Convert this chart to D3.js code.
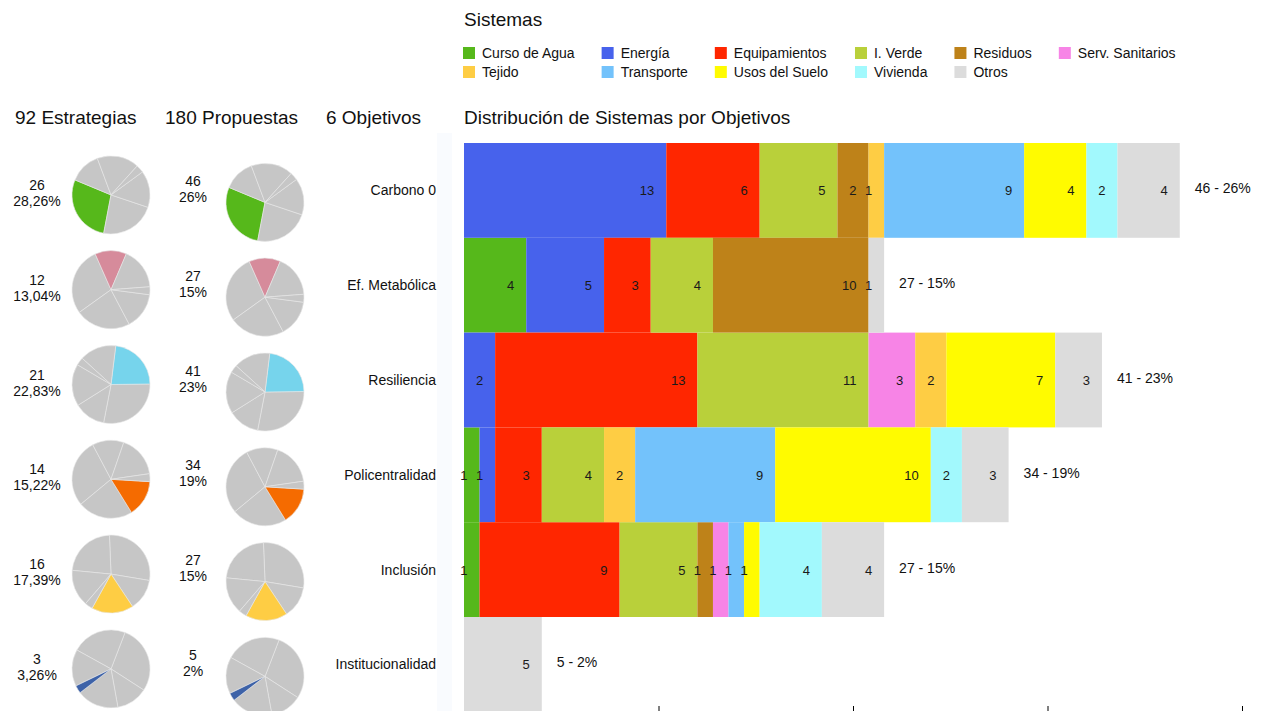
<!DOCTYPE html>
<html>
<head>
<meta charset="utf-8">
<script src="https://cdn.jsdelivr.net/npm/d3@7"></script>
<style>
  body { margin: 0; background: #fff; }
  svg { font-family: "Liberation Sans", Arial, Helvetica, sans-serif; }
</style>
</head>
<body>
<script>
// Objetivos, in the order of the rows.
var objetivos = ['Carbono 0', 'Ef. Metabólica', 'Resiliencia', 'Policentralidad', 'Inclusión', 'Institucionalidad'];
var estrategias = [26, 12, 21, 14, 16, 3];
var propuestas = [46, 27, 41, 34, 27, 5];
var propuestasPct = ['26%', '15%', '23%', '19%', '15%', '2%'];

// Sistemas, also the stacking order of each bar.
var sistemas = ['Curso de Agua', 'Energía', 'Equipamientos', 'I. Verde', 'Residuos', 'Serv. Sanitarios',
  'Tejido', 'Transporte', 'Usos del Suelo', 'Vivienda', 'Otros'];
var sistemaColors = ['#56b81b', '#4762ec', '#ff2600', '#b9d03a', '#be8219', '#f784e6',
  '#fecd44', '#73c2fb', '#fffb00', '#a2f9fd', '#dcdcdc'];

// Count of propuestas per sistema, one list per objetivo.
var carbono0 = [0, 13, 6, 5, 2, 0, 1, 9, 4, 2, 4];
var efMetabolica = [4, 5, 3, 4, 10, 0, 0, 0, 0, 0, 1];
var resiliencia = [0, 2, 13, 11, 0, 3, 2, 0, 7, 0, 3];
var policentralidad = [1, 1, 3, 4, 0, 0, 2, 9, 10, 2, 3];
var inclusion = [1, 0, 9, 5, 1, 1, 0, 1, 1, 4, 4];
var institucionalidad = [0, 0, 0, 0, 0, 0, 0, 0, 0, 0, 5];
var conteos = [carbono0, efMetabolica, resiliencia, policentralidad, inclusion, institucionalidad];

// Colour of the highlighted slice in each pie, and rotation of each pie (degrees).
var objetivoColors = ['#56b81b', '#d68b9b', '#76d4ec', '#f56b00', '#fecd44', '#3d62a8'];
var pieRotation = [190.8, 234.4, 89.2, 230.4, -2.3, 21.1];

var width = 1267, height = 711;
var svg = d3.select('body').append('svg')
  .attr('width', width)
  .attr('height', height);

// Faint strip between labels and bars.
svg.append('rect')
  .attr('x', 437).attr('y', 133)
  .attr('width', 15).attr('height', height - 133)
  .attr('fill', '#f9fbfe');

// Headers.
var headers = [
  {text: d3.sum(estrategias) + ' Estrategias', x: 15},
  {text: d3.sum(propuestas) + ' Propuestas', x: 165},
  {text: objetivos.length + ' Objetivos', x: 326},
  {text: 'Distribución de Sistemas por Objetivos', x: 464}
];
svg.selectAll('text.header')
  .data(headers)
  .enter().append('text')
    .attr('class', 'header')
    .attr('x', function(d) { return d.x; })
    .attr('y', 124)
    .attr('font-size', 19)
    .attr('fill', '#111')
    .text(function(d) { return d.text; });

svg.append('text')
  .attr('x', 464).attr('y', 26)
  .attr('font-size', 19)
  .attr('fill', '#111')
  .text('Sistemas');

// Legend: 6 columns, width of each column from its longest label.
var legendCols = 6;
var legend = svg.append('g');
var items = legend.selectAll('g')
  .data(sistemas)
  .enter().append('g');
items.append('rect')
  .attr('width', 12).attr('height', 12)
  .attr('y', -6)
  .attr('fill', function(d, i) { return sistemaColors[i]; });
items.append('text')
  .attr('x', 19).attr('y', 5)
  .attr('font-size', 14)
  .attr('fill', '#111')
  .text(function(d) { return d; });
var colWidth = d3.range(legendCols).map(function() { return 0; });
items.select('text').each(function(d, i) {
  var c = i % legendCols;
  colWidth[c] = Math.max(colWidth[c], this.getComputedTextLength());
});
var colX = [463];
for (var c = 1; c < legendCols; c++) colX.push(colX[c - 1] + colWidth[c - 1] + 46);
items.attr('transform', function(d, i) {
  return 'translate(' + colX[i % legendCols] + ',' + (53 + Math.floor(i / legendCols) * 19) + ')';
});

// Scales for the bars.
var x = d3.scaleLinear().domain([0, 50]).range([464, 1242]);
var y = d3.scaleBand().domain(objetivos).range([143, 143 + 6 * 94.8]);
var rowCenter = function(o) { return y(o) + y.bandwidth() / 2; };

// Axis ticks at the bottom (their labels fall below the page).
var axis = svg.append('g')
  .attr('transform', 'translate(0,706)')
  .call(d3.axisBottom(x).tickValues([0, 12.5, 25, 37.5, 50]).tickSize(6).tickFormat(''));
axis.select('.domain').remove();

// Stacked bars.
var table = objetivos.map(function(o, i) {
  var row = {objetivo: o};
  sistemas.forEach(function(s, j) { row[s] = conteos[i][j]; });
  return row;
});
var series = d3.stack().keys(sistemas)(table);

var layer = svg.append('g').selectAll('g')
  .data(series)
  .enter().append('g')
    .attr('fill', function(d, i) { return sistemaColors[i]; });

layer.selectAll('rect')
  .data(function(d) { return d.filter(function(s) { return s[1] > s[0]; }); })
  .enter().append('rect')
    .attr('x', function(d) { return x(d[0]); })
    .attr('y', function(d) { return y(d.data.objetivo); })
    .attr('width', function(d) { return x(d[1]) - x(d[0]); })
    .attr('height', y.bandwidth());

// Value labels (drawn afterwards so neighbours do not cover them).
var labels = svg.append('g')
  .attr('font-size', 13)
  .attr('fill', '#1a1a1a')
  .attr('text-anchor', 'end');
series.forEach(function(s) {
  s.forEach(function(d) {
    if (d[1] <= d[0]) return;
    labels.append('text')
      .attr('x', x(d[1]) - 12)
      .attr('y', rowCenter(d.data.objetivo) + 5)
      .text(d[1] - d[0]);
  });
});

// Totals to the right of each bar.
svg.append('g').selectAll('text')
  .data(objetivos)
  .enter().append('text')
    .attr('x', function(o, i) { return x(d3.sum(conteos[i])) + 15; })
    .attr('y', function(o) { return rowCenter(o) + 3; })
    .attr('font-size', 14)
    .attr('fill', '#111')
    .text(function(o, i) { return propuestas[i] + ' - ' + propuestasPct[i]; });

// Objetivo names.
svg.append('g').selectAll('text')
  .data(objetivos)
  .enter().append('text')
    .attr('x', 436)
    .attr('y', function(o) { return rowCenter(o) + 5; })
    .attr('text-anchor', 'end')
    .attr('font-size', 14)
    .attr('fill', '#111')
    .text(function(o) { return o; });

// Pies: same slices (estrategias per objetivo, alphabetical), highlighted slice per row.
var pieData = objetivos.map(function(o, i) { return {name: o, value: estrategias[i]}; });
var arc = d3.arc().innerRadius(0).outerRadius(39);
var fmtPct = function(v) { return d3.format('.2f')(v).replace('.', ',') + '%'; };
var totalEst = d3.sum(estrategias);

var pieCols = [
  {cx: 111, dy: 4.5, tx: 37, tdy: 2.5,
   lines: function(i) { return [estrategias[i], fmtPct(estrategias[i] / totalEst * 100)]; }},
  {cx: 265, dy: 12, tx: 193, tdy: -1.5,
   lines: function(i) { return [propuestas[i], propuestasPct[i]]; }}
];

objetivos.forEach(function(o, i) {
  var rot = pieRotation[i] * Math.PI / 180;
  var pie = d3.pie()
    .value(function(d) { return d.value; })
    .sort(function(a, b) { return d3.ascending(a.name, b.name); })
    .startAngle(rot)
    .endAngle(rot + 2 * Math.PI);
  var arcs = pie(pieData);
  pieCols.forEach(function(col) {
    var cy = rowCenter(o) + col.dy;
    svg.append('g')
      .attr('transform', 'translate(' + col.cx + ',' + cy + ')')
      .selectAll('path')
      .data(arcs)
      .enter().append('path')
        .attr('d', arc)
        .attr('fill', function(d) { return d.data.name === o ? objetivoColors[i] : '#c6c6c6'; })
        .attr('stroke', '#e8e8e8')
        .attr('stroke-width', 0.6);
    var ty = rowCenter(o) + col.tdy;
    svg.append('g').selectAll('text')
      .data(col.lines(i))
      .enter().append('text')
        .attr('x', col.tx)
        .attr('y', function(d, k) { return ty - 3 + k * 16; })
        .attr('text-anchor', 'middle')
        .attr('font-size', 14)
        .attr('fill', '#111')
        .text(function(d) { return d; });
  });
});
</script>
</body>
</html>
